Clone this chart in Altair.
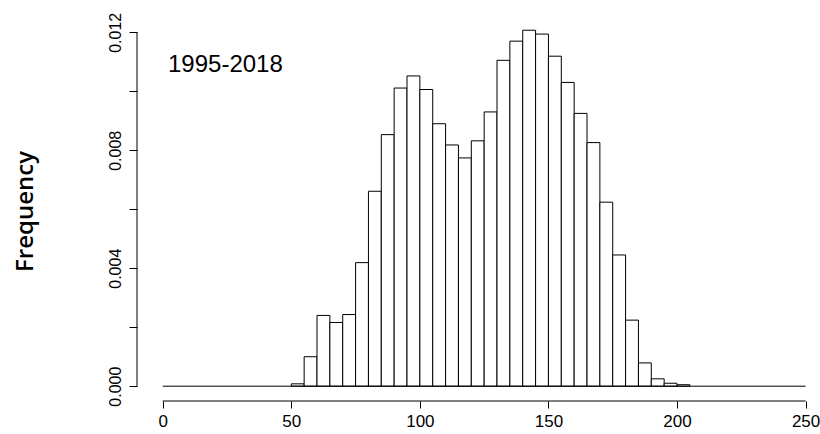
import altair as alt
import pandas as pd

# Histogram bins (left edges, width 5) and densities
bin_left = [50, 55, 60, 65, 70, 75, 80, 85, 90, 95, 100, 105, 110, 115, 120, 125,
            130, 135, 140, 145, 150, 155, 160, 165, 170, 175, 180, 185, 190, 195, 200]
density = [0.00008, 0.00100, 0.00240, 0.00216, 0.00243, 0.00419, 0.00661, 0.00853,
           0.01011, 0.01052, 0.01006, 0.00890, 0.00818, 0.00774, 0.00832, 0.00930,
           0.01105, 0.01170, 0.01207, 0.01194, 0.01119, 0.01030, 0.00925, 0.00826,
           0.00624, 0.00445, 0.00224, 0.00079, 0.00025, 0.00010, 0.00005]
bin_width = 5

x_ticks = [0, 50, 100, 150, 200, 250]
y_ticks = [0.0, 0.002, 0.004, 0.006, 0.008, 0.010, 0.012]
period_label = "1995-2018"
y_title = "Frequency"

df = pd.DataFrame({"x0": bin_left, "x1": [b + bin_width for b in bin_left], "d": density})

W, H = 683, 393
LEFT, TOP = 137, 8
FONT = "Liberation Sans"

xscale = alt.Scale(domain=[-10, 255.6], nice=False, zero=False)
yscale = alt.Scale(domain=[-0.000502, 0.012824], nice=False, zero=False)

xaxis = alt.Axis(values=x_ticks, domain=False, grid=False, tickSize=7, tickColor="black",
                 labelFont=FONT, labelFontSize=17, labelColor="black", labelPadding=5,
                 labelFlush=False, labelOverlap=False, title=None)
yaxis = alt.Axis(values=y_ticks, domain=False, grid=False, tickSize=8, tickColor="black",
                 labelFont=FONT, labelFontSize=16, labelColor="black", labelAngle=-90,
                 labelAlign="center", labelBaseline="alphabetic", labelPadding=9,
                 labelOverlap=False,
                 labelExpr="round(datum.value*1000) % 4 == 0 ? format(datum.value, '.3f') : ''",
                 title=None)

bars = alt.Chart(df).mark_bar(fill="white", stroke="black", strokeWidth=1, binSpacing=0).encode(
    x=alt.X("x0:Q", scale=xscale, axis=xaxis),
    x2="x1:Q",
    y=alt.Y("d:Q", scale=yscale, axis=yaxis),
    y2=alt.datum(0),
)

base_df = pd.DataFrame({"a": [x_ticks[0]], "b": [x_ticks[-1]], "z": [0.0]})
baseline = alt.Chart(base_df).mark_rule(color="black", strokeWidth=1).encode(
    x="a:Q", x2="b:Q", y="z:Q"
)
xaxis_line = alt.Chart(base_df).mark_rule(color="black", strokeWidth=1).encode(
    x="a:Q", x2="b:Q", y=alt.value(H)
)
yax_df = pd.DataFrame({"lo": [y_ticks[0]], "hi": [y_ticks[-1]]})
yaxis_line = alt.Chart(yax_df).mark_rule(color="black", strokeWidth=1).encode(
    x=alt.value(0), y="lo:Q", y2="hi:Q"
)

label = alt.Chart(pd.DataFrame({"t": [period_label]})).mark_text(
    font=FONT, fontSize=24, align="left", baseline="alphabetic", color="black"
).encode(x=alt.value(31), y=alt.value(64), text="t:N")

ytitle = alt.Chart(pd.DataFrame({"t": [y_title]})).mark_text(
    font="Open Sans", fontSize=24, fontWeight=600, align="center", baseline="alphabetic",
    angle=270, color="black"
).encode(x=alt.value(-104), y=alt.value(203.5), text="t:N")

chart = alt.layer(bars, baseline, xaxis_line, yaxis_line, label, ytitle).properties(
    width=W, height=H,
    autosize=alt.AutoSizeParams(type="none"),
    padding={"left": LEFT, "top": TOP, "right": 0, "bottom": 434 - TOP - H},
    background="white",
).configure_view(stroke=None)

chart.save("out.html", embed_options={"renderer": "svg", "actions": False})
